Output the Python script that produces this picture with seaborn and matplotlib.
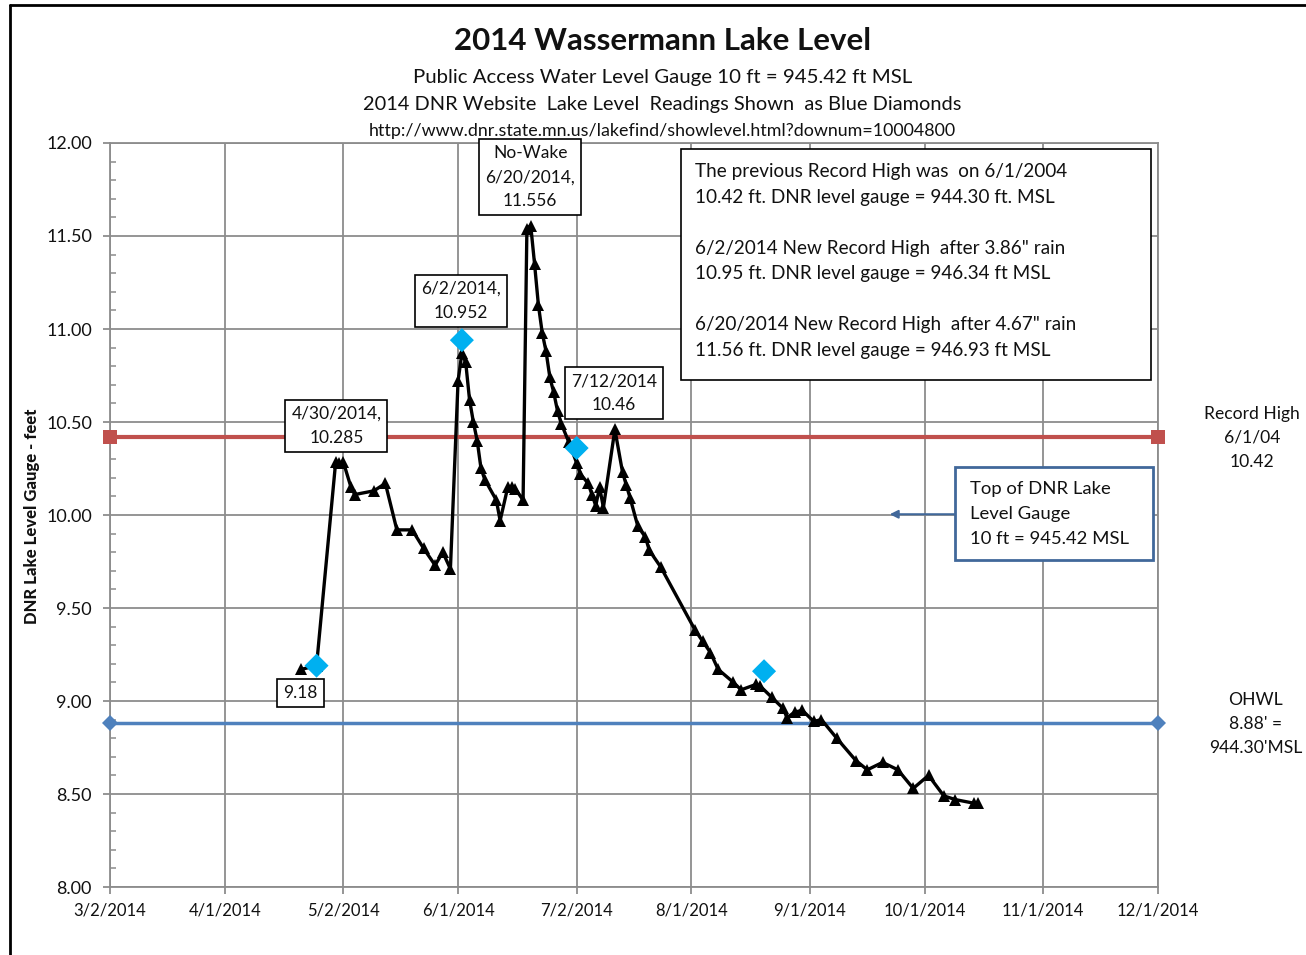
import pandas as pd
import matplotlib
matplotlib.use("Agg")
import matplotlib.pyplot as plt
from matplotlib.ticker import MultipleLocator
from matplotlib.lines import Line2D
from matplotlib.patches import Rectangle
import seaborn as sns

sns.set_theme(style="white")
plt.rcParams['font.family'] = ['Lato', 'DejaVu Sans']
plt.rcParams['text.color'] = '#111111'

# Gauge readings (black triangles)
gauge_dates = [
    '2014-04-21', '2014-04-25', '2014-04-30', '2014-05-01', '2014-05-02',
    '2014-05-04', '2014-05-05', '2014-05-10', '2014-05-13', '2014-05-16',
    '2014-05-20', '2014-05-23', '2014-05-26', '2014-05-28', '2014-05-30',
    '2014-06-01', '2014-06-02', '2014-06-03', '2014-06-04', '2014-06-05',
    '2014-06-06', '2014-06-07', '2014-06-08', '2014-06-11', '2014-06-12',
    '2014-06-14', '2014-06-15', '2014-06-16', '2014-06-18', '2014-06-19',
    '2014-06-20', '2014-06-21', '2014-06-22', '2014-06-23', '2014-06-24',
    '2014-06-25', '2014-06-26', '2014-06-27', '2014-06-28', '2014-06-30',
    '2014-07-02', '2014-07-03', '2014-07-05', '2014-07-06', '2014-07-07',
    '2014-07-08', '2014-07-09', '2014-07-12', '2014-07-14', '2014-07-15',
    '2014-07-16', '2014-07-18', '2014-07-20', '2014-07-21', '2014-07-24',
    '2014-08-02', '2014-08-04', '2014-08-06', '2014-08-08', '2014-08-12',
    '2014-08-14', '2014-08-18', '2014-08-19', '2014-08-22', '2014-08-25',
    '2014-08-26', '2014-08-28', '2014-08-30', '2014-09-02', '2014-09-04',
    '2014-09-08', '2014-09-13', '2014-09-16', '2014-09-20', '2014-09-24',
    '2014-09-28', '2014-10-02', '2014-10-06', '2014-10-09', '2014-10-14',
    '2014-10-15',
]
gauge_levels = [
    9.17, 9.19, 10.285, 10.28, 10.285,
    10.15, 10.11, 10.13, 10.17, 9.92,
    9.92, 9.82, 9.73, 9.80, 9.71,
    10.72, 10.87, 10.82, 10.62, 10.50,
    10.40, 10.25, 10.19, 10.08, 9.97,
    10.15, 10.15, 10.14, 10.08, 11.54,
    11.556, 11.35, 11.13, 10.98, 10.88,
    10.74, 10.66, 10.56, 10.49, 10.39,
    10.28, 10.22, 10.17, 10.11, 10.05,
    10.15, 10.04, 10.46, 10.23, 10.16,
    10.09, 9.94, 9.88, 9.81, 9.72,
    9.38, 9.32, 9.26, 9.17, 9.10,
    9.06, 9.09, 9.08, 9.02, 8.96,
    8.91, 8.94, 8.95, 8.89, 8.90,
    8.80, 8.68, 8.63, 8.67, 8.63,
    8.53, 8.60, 8.49, 8.47, 8.45,
    8.45,
]

# DNR website readings (blue diamonds)
dnr_dates = ['2014-04-25', '2014-06-02', '2014-07-02', '2014-08-20']
dnr_levels = [9.19, 10.94, 10.36, 9.16]

# reference lines
ref_dates = ['2014-03-02', '2014-12-01']
record_high = [10.42, 10.42]
ohwl = [8.88, 8.88]

tick_dates = ['2014-03-02', '2014-04-01', '2014-05-02', '2014-06-01', '2014-07-02',
              '2014-08-01', '2014-09-01', '2014-10-01', '2014-11-01', '2014-12-01']
tick_labels = ['3/2/2014', '4/1/2014', '5/2/2014', '6/1/2014', '7/2/2014',
               '8/1/2014', '9/1/2014', '10/1/2014', '11/1/2014', '12/1/2014']
y_ticks = [8.0, 8.5, 9.0, 9.5, 10.0, 10.5, 11.0, 11.5, 12.0]

gauge = pd.DataFrame({'date': pd.to_datetime(gauge_dates), 'level': gauge_levels})
dnr = pd.DataFrame({'date': pd.to_datetime(dnr_dates), 'level': dnr_levels})
ref = pd.DataFrame({'date': pd.to_datetime(ref_dates), 'record': record_high, 'ohwl': ohwl})

fig = plt.figure(figsize=(13.06, 9.55), dpi=100)
fig.patch.set_facecolor('white')
ax = fig.add_axes([110 / 1306, 68 / 955, 1048 / 1306, 744 / 955])

grid_col = '#8c8c8c'
sns.lineplot(data=ref, x='date', y='record', color='#C0504D', lw=3, marker='s',
             markersize=10, markeredgewidth=0, clip_on=False, ax=ax, zorder=3)
sns.lineplot(data=ref, x='date', y='ohwl', color='#4F81BD', lw=2.5, marker='D',
             markersize=8, markeredgewidth=0, clip_on=False, ax=ax, zorder=3)
sns.lineplot(data=gauge, x='date', y='level', color='black', lw=2.4, marker='^',
             markersize=8, markeredgewidth=0, ax=ax, zorder=4)
sns.scatterplot(data=dnr, x='date', y='level', marker='D', s=150, color='#00B0F0',
                edgecolor='none', ax=ax, zorder=5)

ax.set_xlim(pd.Timestamp('2014-03-02'), pd.Timestamp('2014-12-01'))
ax.set_ylim(8, 12)
ax.set_xticks(pd.to_datetime(tick_dates))
ax.set_xticklabels(tick_labels)
ax.set_yticks(y_ticks)
ax.set_yticklabels([f'{v:.2f}' for v in y_ticks])
ax.yaxis.set_minor_locator(MultipleLocator(0.1))
ax.grid(True, which='major', color=grid_col, lw=1.3)
ax.set_axisbelow(True)
for s in ax.spines.values():
    s.set_color(grid_col)
    s.set_linewidth(1.3)
ax.tick_params(axis='y', which='major', direction='out', length=5, color=grid_col,
               width=1.3, labelsize=13, labelcolor='#111111', pad=8, left=True)
ax.tick_params(axis='y', which='minor', direction='in', length=4, color=grid_col,
               width=1.1, left=True)
ax.tick_params(axis='x', which='major', direction='out', length=5, color=grid_col,
               width=1.3, labelsize=12, labelcolor='#111111', pad=6, bottom=True)
ax.set_xlabel('')
ax.set_ylabel('')

fig.text(0.0245, 0.4597, 'DNR Lake Level Gauge - feet', rotation=90, ha='center',
         va='center', fontsize=12, fontweight='black')

# titles
fig.text(0.507, 0.957, '2014 Wassermann Lake Level', ha='center', va='center',
         fontsize=22.5, fontweight='bold')
fig.text(0.507, 0.919, 'Public Access Water Level Gauge 10 ft = 945.42 ft MSL',
         ha='center', va='center', fontsize=14.7)
fig.text(0.507, 0.891, '2014 DNR Website  Lake Level  Readings Shown  as Blue Diamonds',
         ha='center', va='center', fontsize=14.4)
fig.text(0.507, 0.863, 'http://www.dnr.state.mn.us/lakefind/showlevel.html?downum=10004800',
         ha='center', va='center', fontsize=12.9)

# data labels
box = dict(boxstyle='square,pad=0.35', fc='white', ec='black', lw=1.2)
labels = [
    ('9.18', 0.182, 0.261),
    ('4/30/2014,\n10.285', 0.216, 0.620),
    ('6/2/2014,\n10.952', 0.335, 0.788),
    ('No-Wake\n6/20/2014,\n11.556', 0.401, 0.954),
    ('7/12/2014\n10.46', 0.481, 0.664),
]
for txt, lx, ly in labels:
    ax.text(lx, ly, txt, transform=ax.transAxes, ha='center', va='center',
            fontsize=12.5, linespacing=1.6, bbox=box, zorder=6)

# info box
ax.add_patch(Rectangle((0.545, 0.681), 0.448, 0.311, transform=ax.transAxes,
                       fc='white', ec='black', lw=1.2, zorder=6))
info = ('The previous Record High was  on 6/1/2004\n'
        '10.42 ft. DNR level gauge = 944.30 ft. MSL\n\n'
        '6/2/2014 New Record High  after 3.86" rain\n'
        '10.95 ft. DNR level gauge = 946.34 ft MSL\n\n'
        '6/20/2014 New Record High  after 4.67" rain\n'
        '11.56 ft. DNR level gauge = 946.93 ft MSL')
ax.text(0.558, 0.973, info, transform=ax.transAxes, ha='left', va='top',
        fontsize=13.6, linespacing=1.61, zorder=7)

# gauge box and arrow
ax.add_patch(Rectangle((0.806, 0.4395), 0.189, 0.125, transform=ax.transAxes,
                       fc='white', ec='#41689A', lw=2, zorder=6))
ax.text(0.821, 0.546, 'Top of DNR Lake\nLevel Gauge\n10 ft = 945.42 MSL',
        transform=ax.transAxes, ha='left', va='top', fontsize=13.3,
        linespacing=1.72, zorder=7)
ax.annotate('', xy=(0.744, 0.501), xytext=(0.806, 0.501), xycoords='axes fraction',
            arrowprops=dict(arrowstyle='-|>', color='#41689A', lw=1.5,
                            mutation_scale=12, shrinkA=0, shrinkB=0), zorder=6)

# right side notes
fig.text(0.9587, 0.5414, 'Record High\n6/1/04\n10.42', ha='center', va='center',
         fontsize=12.6, linespacing=1.65)
fig.text(0.9617, 0.2419, "OHWL\n8.88' =\n944.30'MSL", ha='center', va='center',
         fontsize=12.6, linespacing=1.65)

# outer frame
fig.add_artist(Line2D([10 / 1306, 10 / 1306], [0, 1 - 5 / 955], color='black', lw=2,
                      transform=fig.transFigure))
fig.add_artist(Line2D([10 / 1306, 1], [1 - 5 / 955, 1 - 5 / 955], color='black', lw=2,
                      transform=fig.transFigure))

fig.savefig('out.png', dpi=100, facecolor='white')
